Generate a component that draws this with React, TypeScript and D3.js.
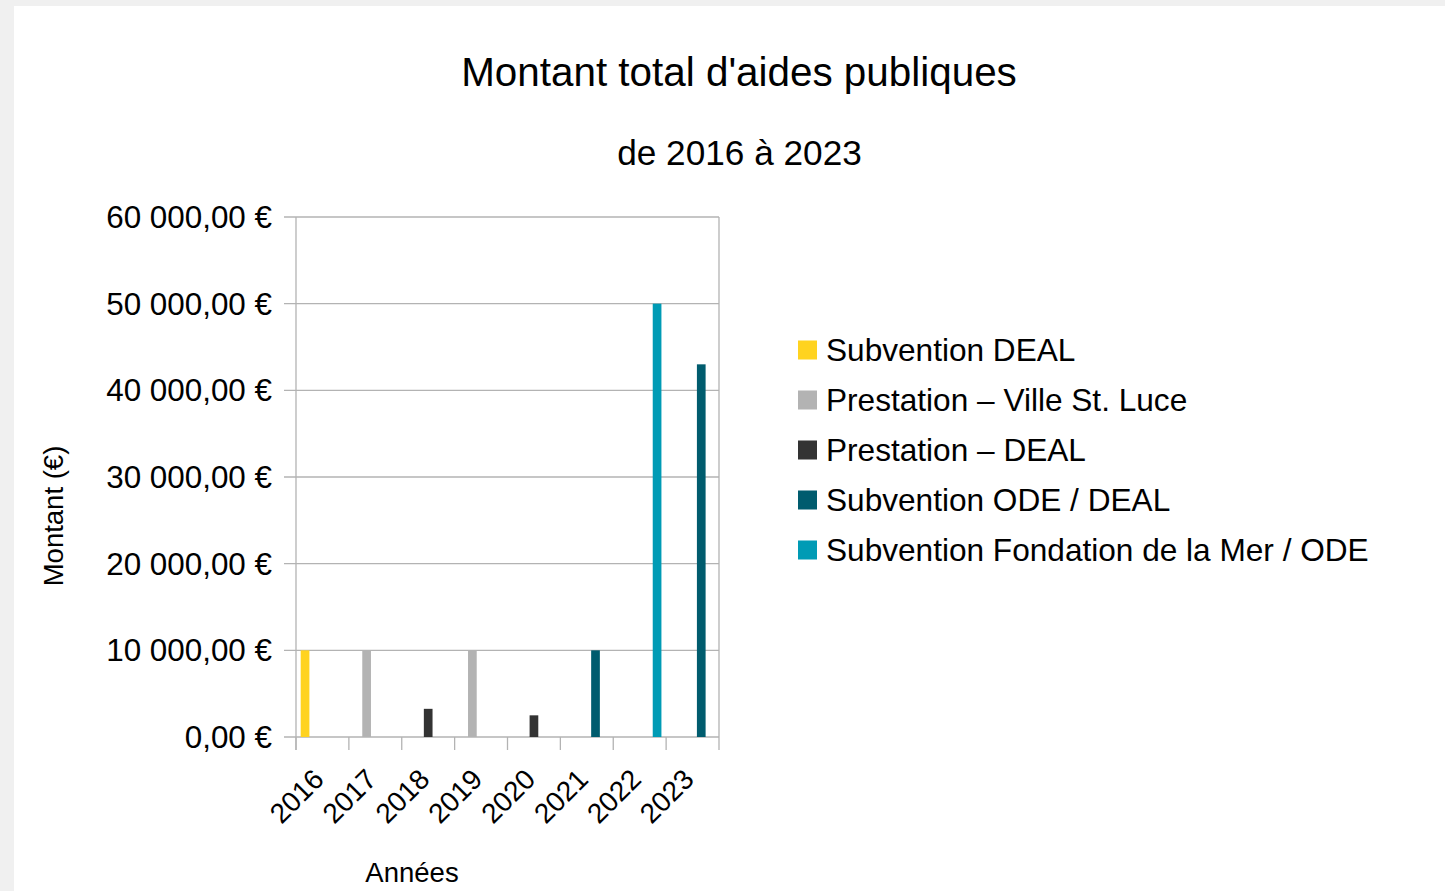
import React from 'react';
import * as d3 from 'd3';

// données
const years = ['2016', '2017', '2018', '2019', '2020', '2021', '2022', '2023'];
const seriesNames = [
  'Subvention DEAL',
  'Prestation – Ville St. Luce',
  'Prestation – DEAL',
  'Subvention ODE / DEAL',
  'Subvention Fondation de la Mer / ODE',
];
const seriesColors = ['#ffd320', '#b3b3b3', '#333333', '#005c6e', '#009bb5'];
const subventionDeal = [10000, 0, 0, 0, 0, 0, 0, 0];
const prestationVille = [0, 10000, 0, 10000, 0, 0, 0, 0];
const prestationDeal = [0, 0, 3250, 0, 2500, 0, 0, 0];
const subventionOde = [0, 0, 0, 0, 0, 10000, 0, 43000];
const subventionFondation = [0, 0, 0, 0, 0, 0, 50000, 0];
const seriesValues = [subventionDeal, prestationVille, prestationDeal, subventionOde, subventionFondation];
const yTicks = [0, 10000, 20000, 30000, 40000, 50000, 60000];

const W = 1445;
const H = 891;
const font = '"Liberation Sans", Arial, sans-serif';
const gridColor = '#b3b3b3';

const fmt = (v: number) => {
  const s = d3.format(',.2f')(v).replace(/,/g, ' ').replace('.', ',');
  return `${s} €`;
};

export default function App() {
  const plot = { left: 296, right: 719, top: 217, bottom: 737 };

  const x0 = d3.scaleBand<string>().domain(years).range([plot.left, plot.right]).padding(0);
  const x1 = d3
    .scaleBand<string>()
    .domain(seriesNames)
    .range([0, x0.bandwidth()])
    .paddingInner(0)
    .paddingOuter(0.54);
  const y = d3.scaleLinear().domain([0, 60000]).range([plot.bottom, plot.top]);

  const boundaries = years.map((yr) => x0(yr)!).concat([plot.right]);

  return (
    <svg
      width={W}
      height={H}
      style={{ position: 'absolute', left: 0, top: 0, display: 'block' }}
      fontFamily={font}
    >
      <rect x={0} y={0} width={W} height={H} fill="#f0f0f0" />
      <rect x={14} y={6} width={W - 14} height={H - 6} fill="#ffffff" />

      {/* titres */}
      <text x={739} y={86} textAnchor="middle" fontSize={40.4} fill="#000">
        Montant total d'aides publiques
      </text>
      <text x={739.5} y={165} textAnchor="middle" fontSize={35.2} fill="#000">
        de 2016 à 2023
      </text>

      {/* grille et ticks de l'axe Y */}
      {yTicks.map((t) => (
        <g key={t}>
          <line x1={plot.left - 12} x2={plot.right} y1={y(t)} y2={y(t)} stroke={gridColor} strokeWidth={1.3} />
          <text x={272} y={y(t)} dy="0.35em" textAnchor="end" fontSize={31.4} fill="#000">
            {fmt(t)}
          </text>
        </g>
      ))}

      {/* bords du cadre */}
      <line x1={plot.left} x2={plot.left} y1={plot.top} y2={plot.bottom + 13} stroke={gridColor} strokeWidth={1.3} />
      {boundaries.map((bx, i) => (
        <line key={i} x1={bx} x2={bx} y1={i === boundaries.length - 1 ? plot.top : plot.bottom} y2={plot.bottom + 13} stroke={gridColor} strokeWidth={1.3} />
      ))}

      {/* barres */}
      {seriesValues.map((vals, si) =>
        vals.map((v, yi) =>
          v > 0 ? (
            <rect
              key={`${si}-${yi}`}
              x={x0(years[yi])! + x1(seriesNames[si])!}
              y={y(v)}
              width={x1.bandwidth()}
              height={y(0) - y(v)}
              fill={seriesColors[si]}
            />
          ) : null
        )
      )}

      {/* étiquettes X */}
      {years.map((yr) => {
        const cx = x0(yr)! + x0.bandwidth() / 2 + 3;
        const cy = 781;
        return (
          <text
            key={yr}
            x={cx}
            y={cy}
            transform={`rotate(-45, ${cx}, ${cy})`}
            textAnchor="end"
            fontSize={28}
            fill="#000"
          >
            {yr}
          </text>
        );
      })}

      {/* titres des axes */}
      <text x={412} y={882} textAnchor="middle" fontSize={27.5} fill="#000">
        Années
      </text>
      <text
        x={0}
        y={0}
        transform={`translate(63, 516) rotate(-90)`}
        textAnchor="middle"
        fontSize={27.5}
        fill="#000"
      >
        Montant (€)
      </text>

      {/* légende */}
      {seriesNames.map((name, i) => {
        const cy = 350 + i * 50;
        return (
          <g key={name}>
            <rect x={798} y={cy - 9.5} width={19} height={19} fill={seriesColors[i]} />
            <text x={826} y={cy} dy="0.35em" fontSize={31.6} fill="#000">
              {name}
            </text>
          </g>
        );
      })}
    </svg>
  );
}
